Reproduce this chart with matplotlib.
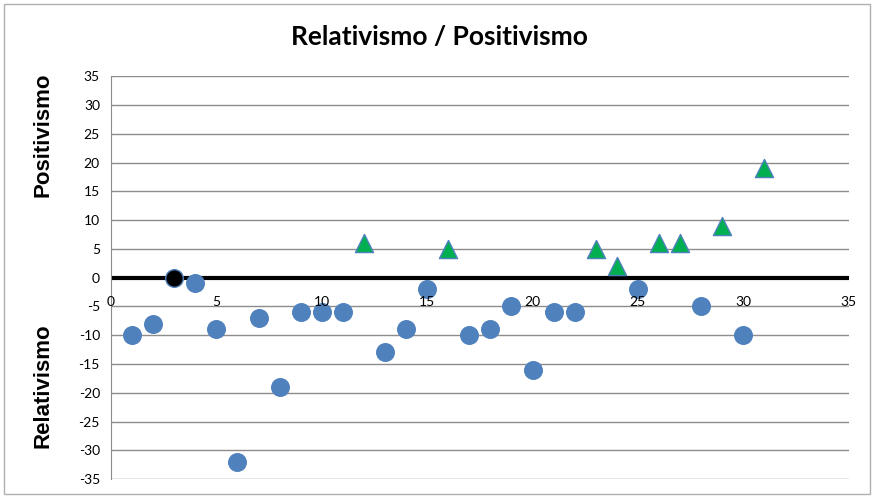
import matplotlib.pyplot as plt
from matplotlib.patches import Rectangle

# respondents and their scores
x_neg = [1, 2, 4, 5, 6, 7, 8, 9, 10, 11, 13, 14, 15, 17, 18, 19, 20, 21, 22, 25, 28, 30]
y_neg = [-10, -8, -1, -9, -32, -7, -19, -6, -6, -6, -13, -9, -2, -10, -9, -5, -16, -6, -6, -2, -5, -10]
x_pos = [12, 16, 23, 24, 26, 27, 29, 31]
y_pos = [6, 5, 5, 2, 6, 6, 9, 19]
x_zero = [3]
y_zero = [0]

x_ticks = [0, 5, 10, 15, 20, 25, 30, 35]
y_ticks = list(range(-35, 36, 5))

plt.rcParams['font.family'] = ['Lato', 'DejaVu Sans']

fig = plt.figure(figsize=(8.74, 4.98), dpi=100)
ax = fig.add_axes([0.127, 0.038, 0.844, 0.809])

# chart border like the spreadsheet frame
fig.patches.append(Rectangle((0.005, 0.008), 0.99, 0.984, transform=fig.transFigure,
                             fill=False, edgecolor='#b0b0b0', linewidth=1))

for yv in y_ticks:
    ax.axhline(yv, color='#8c8c8c', linewidth=1, zorder=1)
ax.axhline(0, color='black', linewidth=3, zorder=2)

ax.scatter(x_neg, y_neg, s=160, color='#4F81BD', edgecolors='#4F81BD', zorder=3)
ax.scatter(x_zero, y_zero, s=160, color='black', edgecolors='#4F81BD', linewidths=1, zorder=3)
ax.scatter(x_pos, y_pos, s=170, marker='^', color='#00B050', edgecolors='#4F81BD', linewidths=1, zorder=3)

ax.set_xlim(0, 35)
ax.set_ylim(-35, 35)
ax.set_yticks(y_ticks)
ax.set_yticklabels([str(v) for v in y_ticks], fontsize=10)
ax.tick_params(axis='y', length=0, pad=8)
ax.set_xticks([])

# x labels sit just under the zero line
for xv in x_ticks:
    ax.text(xv, -3.2, str(xv), ha='center', va='top', fontsize=10)

for s in ['top', 'right', 'bottom']:
    ax.spines[s].set_visible(False)
ax.spines['left'].set_color('#8c8c8c')

fig.text(0.503, 0.925, 'Relativismo / Positivismo', ha='center', va='center',
         fontsize=19, fontweight='bold')
fig.text(0.049, 0.73, 'Positivismo', rotation=90, ha='center', va='center',
         fontsize=16, fontweight='bold', family='Liberation Sans')
fig.text(0.049, 0.225, 'Relativismo', rotation=90, ha='center', va='center',
         fontsize=16, fontweight='bold', family='Liberation Sans')

fig.savefig('out.png', dpi=100)
